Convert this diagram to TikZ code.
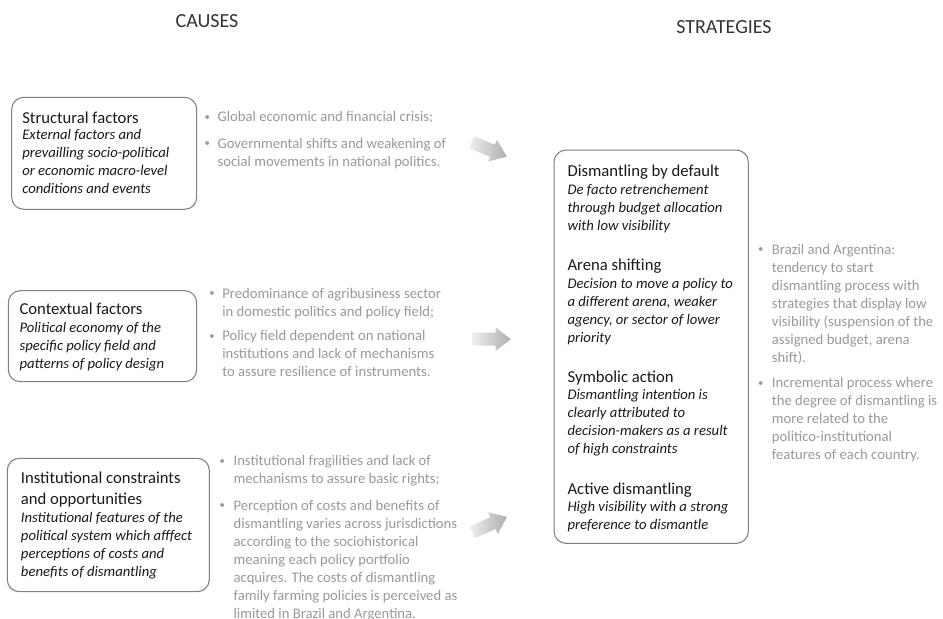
\documentclass[tikz,border=0pt]{standalone}
\usepackage{fontspec}
\setmainfont{Carlito}
\usetikzlibrary{shapes.arrows}
\begin{document}
\begin{tikzpicture}[x=0.75pt,y=-0.75pt,
  head/.style={font=\fontsize{15}{18}\selectfont, text=black!80, inner sep=0},
  card/.style={draw=black!50, line width=0.8pt, rounded corners=9pt, inner sep=0},
  ttl/.style={font=\fontsize{12.5}{15.75}\selectfont, text=black!90, anchor=north west, inner sep=0, align=left},
  desc/.style={font=\fontsize{11}{13.5}\selectfont\itshape, text=black!90, anchor=north west, inner sep=0, align=left},
  grey/.style={font=\fontsize{11}{13.5}\selectfont, text=black!40, anchor=north west, inner sep=0, align=left},
  dot/.style={font=\fontsize{8}{8}\selectfont, text=black!40, inner sep=0},
  flow/.style={single arrow, single arrow head extend=4pt, single arrow tip angle=75, minimum height=28.5pt, inner sep=4.65pt, left color=black!6, right color=black!32, draw=none}]
\useasboundingbox (0,0) rectangle (943,618);

\node[head] (causes) at (207,20.7) {CAUSES};
\node[head] (strategies) at (724,27.3) {STRATEGIES};

\node[card, minimum width=138.75pt, minimum height=84pt] (struct) at (104.2,153.3) {};
\node[ttl] (structT) at (22,111.2) {Structural factors};
\node[desc] (structD) at (22,129.5) {External factors and\\prevailling socio-political\\or economic macro-level\\conditions and events};

\node[card, minimum width=141.3pt, minimum height=68.25pt] (context) at (102.5,336.2) {};
\node[ttl] (contextT) at (19.3,302.8) {Contextual factors};
\node[desc] (contextD) at (19.3,321.8) {Political economy of the\\specific policy field and\\patterns of policy design};

\node[card, minimum width=151.5pt, minimum height=100pt] (instit) at (108.3,525) {};
\node[ttl] (institT) at (20.7,471.8) {Institutional constraints\\and opportunities};
\node[desc] (institD) at (20.7,511.8) {Institutional features of the\\political system which afffect\\perceptions of costs and\\benefits of dismantling};

\node[dot] (b1a) at (207.3,117.7) {\textbullet};
\node[grey] (g1a) at (217.3,111.2) {Global economic and financial crisis;};
\node[dot] (b1b) at (207.3,144.3) {\textbullet};
\node[grey] (g1b) at (217.3,137.8) {Governmental shifts and weakening of\\social movements in national politics.};

\node[dot] (b2a) at (212,294.3) {\textbullet};
\node[grey] (g2a) at (222,287.8) {Predominance of agribusiness sector\\in domestic politics and policy field;};
\node[dot] (b2b) at (212,337) {\textbullet};
\node[grey] (g2b) at (222,330.5) {Policy field dependent on national\\institutions and lack of mechanisms\\to assure resilience of instruments.};

\node[dot] (b3a) at (222.3,461.7) {\textbullet};
\node[grey] (g3a) at (233.3,455.2) {Institutional fragilities and lack of\\mechanisms to assure basic rights;};
\node[dot] (b3b) at (222.3,506.3) {\textbullet};
\node[grey] (g3b) at (233.3,499.8) {Perception of costs and benefits of\\dismantling varies across jurisdictions\\according to the sociohistorical\\meaning each policy portfolio\\acquires. The costs of dismantling\\family farming policies is perceived as\\limited in Brazil and Argentina.};

\node[flow, rotate=-22] (arrow1) at (485.2,147.8) {};
\node[flow, minimum height=29.25pt] (arrow2) at (487.2,339.2) {};
\node[flow, rotate=24] (arrow3) at (485.8,526.3) {};

\node[card, minimum width=145.7pt, minimum height=295pt] (strat) at (651.2,346.7) {};
\node[ttl] (defaultT) at (567.3,164.8) {Dismantling by default};
\node[desc] (defaultD) at (567.3,183.8) {De facto retrenchement\\through budget allocation\\with low visibility};
\node[ttl] (arenaT) at (567.3,258.8) {Arena shifting};
\node[desc] (arenaD) at (567.3,277.8) {Decision to move a policy to\\a different arena, weaker\\agency, or sector of lower\\priority};
\node[ttl] (symbolT) at (567.3,370.8) {Symbolic action};
\node[desc] (symbolD) at (567.3,389.5) {Dismantling intention is\\clearly attributed to\\decision-makers as a result\\of high constraints};
\node[ttl] (activeT) at (567.3,482.8) {Active dismantling};
\node[desc] (activeD) at (567.3,501.5) {High visibility with a strong\\preference to dismantle};

\node[dot] (b4a) at (760.7,250.3) {\textbullet};
\node[grey] (g4a) at (771.7,243.8) {Brazil and Argentina:\\tendency to start\\dismantling process with\\strategies that display low\\visibility (suspension of the\\assigned budget, arena\\shift).};
\node[dot] (b4b) at (760.7,383.7) {\textbullet};
\node[grey] (g4b) at (771.7,377.2) {Incremental process where\\the degree of dismantling is\\more related to the\\politico-institutional\\features of each country.};
\end{tikzpicture}
\end{document}
